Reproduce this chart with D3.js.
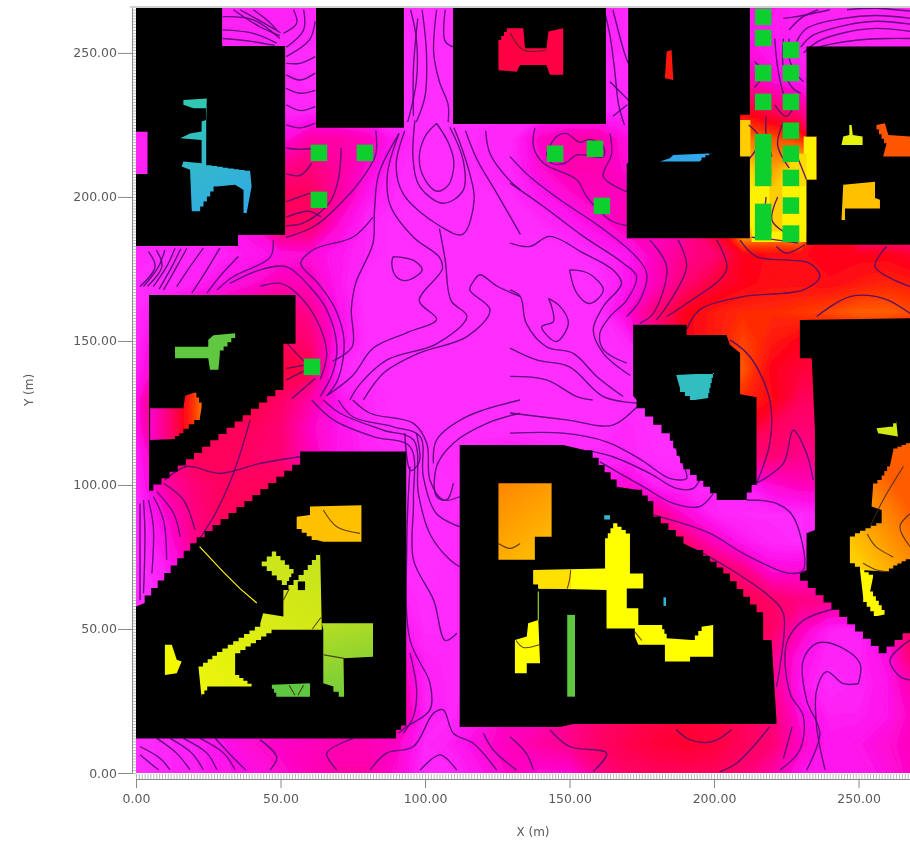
<!DOCTYPE html>
<html><head><meta charset="utf-8">
<script src="https://cdn.jsdelivr.net/npm/d3@7"></script>
<style>html,body{margin:0;padding:0;background:#fff}svg{display:block}</style>
</head><body><svg id="c" width="910" height="844"></svg>
<script>
// ---------- DATA (metres, field level) ----------
const gridX = d3.range(0, 271, 10);
const gridY = [270,260,250,240,230,220,210,200,190,180,170,160,150,140,130,120,110,100,90,80,70,60,50,40,30,20,10,0];
const fieldRows = [
[.3,.3,.3,.5,.5,.5,.3,.3,.3,0,0,0,.5,1,1,1,.5,.2,0,.3,.5,1,.8,.5,.5,.5,.5,.5],
[.3,.3,.3,.5,.5,.4,.3,.3,.3,0,0,0,.5,1,1.5,1.5,.5,.2,0,.5,1,1,.7,.5,.5,.5,.5,.5],
[.3,.3,.3,.3,.3,.2,.2,.2,.1,0,0,0,1,2,2,1.5,.3,.2,0,.5,1.5,1.5,.8,.5,.5,.5,.5,.5],
[.3,.3,.3,.3,.3,.3,.2,.2,.1,0,0,0,.5,1,1,.5,.2,.2,.1,1,3,2.5,1.5,.8,.5,.5,.5,.5],
[.3,.3,.3,.3,.3,.3,.3,.3,.2,0,0,0,.1,.2,.2,.2,.2,.2,.2,1,3,5,4,3,1,.5,.5,.5],
[.5,.5,.5,.5,.8,1.2,2.4,2.4,2,.7,0,0,.3,.3,1.8,2.4,2.4,1.2,.5,1,3,7,6.5,6,2,1,1,1],
[.5,.5,.5,.5,1,3,3.4,2.6,1.5,.3,0,0,.3,.3,1.5,2.2,2.2,1.5,1,1.5,4,8.7,7.5,8.8,4,1,1,1],
[.5,.5,.5,.6,1.2,4,4,2.6,.8,.2,0,0,0,.2,.8,1.5,2,2,1.5,2,4.5,9,8.3,9,4.5,1,1,1],
[.4,.4,.4,.8,1.4,3.9,3.7,1.5,.3,0,0,0,0,.1,.2,.6,1.3,2,2,2.5,5,9,8.5,9,5,2,2,2],
[.3,.2,.3,.5,.8,1.2,1.4,.8,.3,0,0,0,0,0,0,0,.3,.8,2,3,3.5,5,5.2,5.2,5,5,5,4.6],
[.2,.2,.5,1,1.5,2.2,2,.8,0,0,0,0,0,0,0,0,0,.8,2,3.5,4.5,5,5.3,5.3,5.2,5.5,5.7,5.5],
[.2,1,2,2.5,3,3.5,3,1,0,0,0,0,0,0,0,0,0,1.5,3.5,5,5.5,5.8,5.8,6,6.3,6.6,6.6,6.3],
[.2,2,3,3.5,4,4,3.5,1,.1,0,0,0,0,0,0,0,0,.3,3,5,5.5,6.2,5.5,5,5,5,5,5],
[.5,2.5,4,4,4.5,4.5,4.3,.3,.1,0,0,0,0,0,0,0,0,.1,.2,.5,5.5,6.5,5,4.5,4.5,4.5,4.5,4.5],
[1,5,6.5,5,4.5,3.8,2.5,.8,.3,0,0,0,0,0,0,0,0,0,.1,.2,.5,5.8,5.2,4,4,4,4,4],
[1,4.5,5,4,4,3.5,1.8,1,.3,.1,0,0,0,0,0,0,0,.3,0,.2,.5,5,4,3.5,3.5,4,5,6],
[.5,3,4,4,3.8,3.5,2,1,.5,.3,.1,.2,.5,.8,.5,.3,.3,.3,.1,.1,.8,3.3,3.5,3,3,4,6,7],
[.3,2.4,3.4,3.9,4,4,3,1.5,.5,.1,0,.1,.5,.5,.5,.5,1,1.5,.5,.3,.3,.5,1.5,2,2,3,5,7],
[.1,1.5,3.2,4,4,3.5,3,1.5,.5,.2,0,.2,.5,.5,.5,.5,1,2,3,1.5,.4,.2,.2,.2,.5,3,5,7],
[0,1,3,4,4,3.5,3,1.5,.5,.3,0,.2,.5,.5,.5,.5,1,2,4,3.5,2,.8,.3,.2,.5,3,5,7],
[0,.5,2,3,3,3,2.5,1.5,.5,.3,0,.2,.5,.5,.5,.5,1,2,4,4.2,4.2,3.2,1.5,1.5,2,3,5,6],
[0,.3,1,2,2,2,2,1.5,.8,.5,.1,.2,.5,.5,.5,.5,1,2,4,4.2,4.3,4.2,3.8,3.2,3,3,4,5],
[0,.3,1,2,2,2,2,1.5,1,1,.2,.2,.5,.5,.5,.5,1,2,4,4.2,4.3,4.2,3.8,2,.6,.4,1.5,4.5],
[0,.3,1,2,2,2,2,2,1.5,2,.4,.3,.5,.5,.5,.5,1,2,3.5,4,4,4,3,1,.4,.5,1.2,4],
[0,.3,1,2,2,2,2,2,2,2.5,.5,.3,.5,.5,.5,.5,1,2,3.5,4,4,4,3,.8,.2,.4,1,2.5],
[0,.3,1,1.5,1.5,1.5,1.5,1.5,1.5,3,.5,.3,1,2,2,3,3.5,4,4.3,4.5,4.5,4,3.5,1.3,.6,.6,1,2],
[.1,.3,.5,1,1.5,1.8,2,2.2,2.2,1.8,.3,.7,1.5,2,2.5,3,3.8,4.2,4.5,4.7,4.5,4,3.5,1.8,.8,1,1.5,2],
[0,.3,.5,1,1.2,1.5,2,2.3,2.3,1.5,.2,.3,1,1.8,1.5,1.5,3,3.8,4,4,4,3.5,2.5,1,.8,.8,1.2,2]
];
const levelStops = d3.range(0, 14);
const levelColors = ["#ff2eff","#ff10e8","#ff00b8","#ff0088","#ff0058","#ff0018","#ff3800","#ff8000","#ffc000","#ffff00","#c0e020","#60c840","#30c8b0","#30a8e8"];

const corridorLevels = [8.8,8.2,8.2,8.8,8.4];
const corridorShapes = [
 [[213,203.8],[232,203.8],[232,184.4],[213,184.4]],
 [[219.2,203.8],[223.6,203.8],[223.6,188],[219.2,188]],
 [[209,214],[212.6,214],[212.6,226.7],[209,226.7]],
 [[231,206],[235.5,206],[235.5,221],[231,221]],
 [[224,203.8],[232,203.8],[232,215],[227,215]]
];

const buildings = [
 [[0,266],[29.8,266],[29.8,252.4],[51.6,252.4],[51.6,186.8],[35.3,186.8],[35.3,183],[0,183],[0,208],[4,208],[4,222.6],[0,222.6]],
 [[62.3,266],[92.7,266],[92.7,224],[62.3,224]],
 [[109.7,266],[162.6,266],[162.6,225.3],[109.7,225.3]],
 [[170.3,266],[212.4,266],[212.4,228.5],[209,228.5],[209,214],[212.4,214],[212.4,185.7],[169.8,185.7],[169.8,211.7],[170.3,211.7]],
 [[232,252.2],[268,252.2],[268,183.4],[232,183.4],[232,206],[235.5,206],[235.5,221],[232,221]],
 [[4.5,166],[55.2,166],[55.2,149],[51,149],[51,133],[6,98],[4.5,98]],
 [[0,12],[90,12],[90,15],[93.5,18],[93.5,111.6],[56.8,111.6],[56.8,107],[21,79.8],[3,59],[0,57.8]],
 [[112,113.9],[147.8,113.9],[155.9,112],[166.3,99.4],[173.2,98.3],[179,92.5],[179,89],[189.4,79.8],[193.9,77.4],[203.2,69.3],[217,53.1],[217,46.2],[219.9,46.2],[221.6,18.4],[221.6,17],[151.3,17],[146.7,16],[112,16]],
 [[172,155.6],[190.5,155.6],[190.5,152.1],[204.3,152.1],[205.5,148.7],[209,145.8],[209,131.5],[214.7,130.5],[214.7,100],[211.3,94.8],[203.2,94.8],[198.6,99.4],[189.4,107.5],[184.7,118],[173.2,129.5],[172,131]],
 [[229.7,157.3],[268,157.9],[268,48.5],[259.7,41.6],[229.7,69.3],[232,70.5],[232,83.2],[234.9,84.4],[234.9,119],[233.8,144],[229.7,144]]
];

const patchLevels = [12.6,11,4.3,5.4,13,9.4,6.4,8,5,8,9.6,10.2,9.8,9.2,11,7.5,9,8.5,9,11,12.3,9.7,7.3,8.9];
const patchShapes = [
 [[16.4,233.7],[24.5,234.2],[24.3,226],[24.3,211],[39.5,208.8],[40,203.6],[38.3,194.4],[37.2,194.4],[37.2,202.4],[34.3,204.2],[28,203.6],[22.2,195],[19.3,195],[18.7,209.4],[15.8,210.6],[16.4,212.3],[22.7,211.7],[22.7,219.8],[15.3,220.4],[18.7,222],[22.7,222.7],[22.7,226.2],[24.2,226.7],[24.2,230.8],[19.9,230.8],[16.4,232]],
 [[13.5,148],[25,148],[25,150.4],[26.8,152],[34.3,152.7],[34.3,151],[29,145.2],[28.5,140],[25.6,140],[25,144],[13.5,144]],
 [[125.4,254.5],[128.3,258.6],[134,258.6],[134.6,251.6],[142,251.6],[142.7,257.4],[147.8,258.6],[147.8,242.4],[143.2,242.4],[142,245.8],[132.9,245.8],[131.7,243.5],[125.4,244]],
 [[183,241.2],[183.6,250.5],[185.3,251],[185.9,240.6]],
 [[181.3,212.3],[184.7,213.4],[185.9,214.6],[199.7,215.2],[195.7,212.9],[195,212.3]],
 [[244.7,221],[246.8,221.5],[246.8,225],[247.6,225],[248,221.5],[251.4,221],[251.4,218],[244.1,218]],
 [[256.2,225],[259.1,225.6],[260.3,221.5],[267.8,221],[267.8,214],[258.5,214],[259.7,218.6]],
 [[244.7,204.2],[255.7,205.3],[255.7,199.6],[257.4,199],[257.4,196],[245.3,196],[245.3,192],[244.1,192]],
 [[4.9,126.6],[16.4,126.6],[17,131],[20,132],[22.7,127],[22,122.6],[16.4,118],[13.5,116],[4.9,115.6]],
 [[60.2,92.5],[78,93],[78,80.3],[64.8,80.3],[62.5,80.9],[55.6,86],[55.6,89],[60.2,89.6]],
 [[63.7,77.4],[64.3,49.7],[48.7,49.7],[34.3,40.4],[34.3,34],[40,30],[25.6,30],[22.7,26],[21.6,37],[28,42],[43,52],[44,55.5],[51,54.3],[51,63.5],[58,70.5]],
 [[64.3,52],[82,52],[82,40.4],[71.8,39.8],[72,26.5],[68.3,30],[64.8,31.2],[64.8,49.7]],
 [[47,76.9],[54.5,69.3],[52.2,65.3],[43.5,73.4]],
 [[10,44.5],[12.4,44.5],[14.1,39.3],[15.8,38.7],[14.1,34.6],[10,34]],
 [[47,30.6],[60.2,31.2],[60.2,26.5],[49.3,26.5]],
 [[125.4,100.6],[143.8,100.6],[143.8,82],[138,82],[138,74],[125.4,74]],
 [[137.5,70.5],[162.3,71],[162.3,81.5],[165.1,86.7],[170.9,82],[170.9,69.3],[175.5,69.3],[175.5,64.1],[169.8,64.1],[169.8,57.2],[173.8,57.2],[173.8,51.4],[181.3,51.4],[183.6,46.8],[192.2,46.2],[195.7,50.8],[199.7,51.4],[199.7,40.4],[191.7,40.4],[191.7,38.7],[183,38.7],[183,44.5],[173.8,44.5],[172.6,47.4],[172.6,50.2],[162.8,50.2],[162.8,63.5],[140.9,64.1],[137.5,67]],
 [[137.5,70.5],[150.5,70.5],[150.5,64],[140.9,64],[137.5,67]],
 [[139.2,53.1],[139.8,38.1],[135.2,38.1],[135.2,34.6],[131.1,34.6],[131.1,46.2],[135.2,47.4],[135.7,52]],
 [[149.2,54.9],[151.9,54.9],[151.9,26.5],[149.2,26.5]],
 [[186.9,138.2],[200,138.9],[198,130.2],[193.4,129.5],[188.2,133.7]],
 [[256.2,119.7],[260.9,120.2],[263,122.6],[263.6,116.8],[256.8,118]],
 [[267.8,114.5],[262,112],[260.8,106.4],[258,101.7],[255,99.4],[254.5,92.5],[258,91.3],[258,86.7],[250.5,83.2],[247,81],[247,72.8],[250.5,70.5],[259,70],[262,72],[267.8,75]],
 [[250.5,70.5],[255,68],[254,63],[259,55],[256.5,54.5],[251.6,61]]
];
// patch index, start X, start Y, end X, end Y, start level, end level
const patchRamps = [
 [0,20,235,40,195,12,13],[8,4.9,120,22.7,120,1.5,6.8],[10,64,75,25,28,9.9,9.3],[11,65,52,72,27,10.1,10.8],
 [15,125,100,144,76,7.1,8],[22,247,78,268,92,8.2,6.5]
];
const specksLevels = [12.6,12.6];
const specks = [[[162,89.5],[164,89.5],[164,88],[162,88]],[[182.5,61],[183.4,61],[183.4,58],[182.5,58]]];
const holeSquare = [[56,63.5],[58.5,63.5],[58.5,66.5],[56,66.5]];
const seamLine = [[22,78.6],[30,70],[36,64],[41.8,59]];
const seamRod = [[139.2,63],[139.2,53]];

const isoLines = [
 [[104,225.5],[108,219],[110,212],[108,204],[104,202],[100,206],[98,213],[100,221],[104,225.5]],
 [[96.5,226.6],[95.9,212.7],[98.3,203.4],[106.3,197.8],[113.2,202.3],[113.2,212.7],[108.6,224.2]],
 [[93,223],[90,211],[92.5,201],[105,190],[113,187],[117,199],[115.5,208],[112,219],[110,224]],
 [[91,222],[87,208],[88,197],[96,186],[105,179],[106,175],[98,164],[104,157.5],[94,153],[82,147.5],[75,138],[66,131]],
 [[114,223],[118,213],[125,201],[133,187]],
 [[121,223],[122.5,215],[129,206],[133,202.5]],
 [[105,189],[107,178],[109,164],[114.5,158.5],[104,149],[87,143.5],[77.5,135],[74,129.5]],
 [[89,179.3],[96,178],[99,174.7],[93.7,171],[90,172.4],[88.5,177],[89,179.3]],
 [[133,165.4],[125,169],[119,173],[117,171],[115.5,167.7],[122.5,160.8],[114.5,151.5],[98,145.8],[85.6,138.8],[78.7,129.5]],
 [[43,169],[50,170],[55.6,166.6],[62.5,157.3],[66,145.8],[63.7,136.5]],
 [[32.5,170],[43,174.7],[52,175.8],[60,169],[66,160.8],[69.5,148],[68,138.8],[63.7,130.7]],
 [[47.5,185],[46.4,179],[33.7,172.4],[28,167.7]],
 [[83,223],[83,215],[80,209],[72,199],[62,190],[52,186]],
 [[71,217],[70,206],[67,198],[58,191],[52,190]],
 [[62,217],[56.8,216.5],[52,217]],[[52,208],[56.8,207.5],[60.8,211.7]],[[52,198.4],[60.2,201.3]],[[52,193],[60,195],[64,193]],
 [[91,222],[84,208],[82.5,195],[82,184],[76,170],[74.5,161],[74.8,148],[68,143]],
 [[82,193],[75,186],[62,182],[57,177],[63,170],[69,161],[72,150],[70,137],[66,131]],
 [[52,149.5],[58,143]],[[52,140.5],[58,141.5]],[[52,136.5],[58,139.5]],[[62,137],[54,130]],
 [[23.3,182.2],[18.7,175.8],[14.1,168.9]],[[29,182.2],[24.5,174.7],[19.3,166.6]],[[35.4,179.3],[29,172.4],[24.5,166.6]],
 [[17.6,182.2],[14.1,175.8],[9.5,167.7]],[[13.5,182.2],[10.6,175.8],[6,168.9]],[[10,181.6],[7.8,175.8],[2.6,168.9]],[[4.3,181],[6.6,175.8],[1.4,168.9]],
 [[7,181.5],[9,176],[4,169]],[[15.5,182],[12.5,176],[8,168]],
 [[30,258],[40.6,256.8],[48.7,253.4]],[[30,262.6],[40.6,261.5],[49.8,255]],[[33.7,265],[43,259],[49.8,256]],[[40.6,265],[45.2,261.5],[48.7,258]],
 [[36,265],[44,260.5],[50,257]],[[30,255],[40,254],[48,252.6]],
 [[54.5,265],[55.6,260.3],[51,256.8]],[[58,265],[58,258],[52,252]],[[62,261],[60,254.5],[52,248.7]],
 [[62,248.7],[56.8,246.4],[52,246.4]],[[62,243],[56.8,240.6],[52,242.4]],[[62,237],[56.8,236],[52,237.7]],[[62,231.4],[56.8,230],[52,232]],[[62,225.6],[56.8,224],[52,225]],
 [[162,265],[164,256],[165.5,245],[167,232],[169,225]],[[165,265],[169,250],[170.5,246]],[[164,240],[168,236],[171,233]],[[165,228],[170,232]],
 [[95,265],[97,255],[97,240],[94,226]],[[99,265],[100.5,250],[100,235],[97,226]],[[104,265],[103,250],[105,240],[108,232],[108,226]],[[107,265],[107,254],[110,252]],[[97.5,262],[96,245],[96,228]],
 [[138,224],[137.5,217.5],[141,211.7],[152.5,206],[156,200],[164,192],[169.7,190]],
 [[142,215],[145.5,221],[149,222],[153.6,219],[157,220],[161.7,217.5],[161.7,214],[152.5,214.6],[148.4,211.7],[143.8,211.7],[142,215]],
 [[164,222],[164.6,215],[161.7,207],[171,201.3]],
 [[129.4,214],[136.3,207],[146.7,199],[160.5,189.7],[173,179.3],[176.7,173.5],[174.4,164.2],[169.8,158.5]],
 [[129.4,204.8],[141,196.7],[154.8,186.3],[168.6,177],[173.2,172.4],[169.8,164.2],[164,158.5],[160.5,152.7],[161.7,147],[169.8,142.3]],
 [[129.4,184],[136.3,182.8],[143.2,186.3],[154.8,180.5],[165,174.7],[168,170],[161.7,162],[158.2,153.9],[161.7,145.7],[171,138]],
 [[129.4,147.5],[138.6,143.4],[150,141],[161.7,130.7],[174.4,128.3]],
 [[129.4,167.7],[133,165.4],[135,156.2],[142,148],[151.3,145.7],[159.4,137.7],[168.6,130.7]],
 [[150,174.7],[156.5,173.5],[161.7,167.7],[157,163],[152.5,166.6],[150,174.7]],
 [[142.7,164.8],[146.7,162],[149.6,156.2],[145.5,149.8],[141.5,152.7],[140.4,155],[144.4,156.7],[143.8,162],[142.7,164.8]],
 [[129.4,137.7],[142,136.5],[152.5,130.7],[158,129.5]],
 [[177.8,185],[183.6,175.8],[179,159.6],[174.4,156.2]],[[187.6,185],[190.5,175.8],[183.6,162],[180,157.3]],[[200.9,185],[204.3,174.7],[190.5,163],[183.6,158.5]],
 [[209,185],[214.7,179.3],[233,177],[236.6,172.4],[230.9,167.7],[210,165.4],[195,160.8],[190.5,153.9]],
 [[221.6,182.8],[225,180.5],[231.4,183.4]],[[259.7,182.8],[255.7,175.8],[267.8,168.9]],[[235.5,158.5],[247,165.4],[258.5,164.8],[267.8,159.6]],
 [[205.5,150.4],[212.4,144.6],[219.3,129.5],[219.3,114.5],[214.7,100.6]],
 [[214.7,100.6],[224,107.5],[227.4,119],[232,111],[234.3,101.7]],
 [[129.4,125],[149,122.6],[165,120.8],[174.4,128.3]],
 [[129.4,118],[147.8,118],[162.8,115],[174.4,109],[184.7,102.3],[190.5,102.3],[189.4,107],[185.9,114.5]],
 [[155.9,112],[165,109.8],[177.8,104],[187,98.8],[192.8,98.8],[195,101.7]],
 [[160.5,108],[175.5,99.4],[185.9,93.6],[195,92.5],[199.7,97]],
 [[179,89.6],[198.6,83.2],[210,76.3],[226.3,69.3],[230.9,70.5],[227.4,89],[221.6,93.6],[211.3,94.8]],
 [[192.8,78],[204.3,71.6],[219.3,61.2],[224,55.4],[222.8,37],[221.6,30]],
 [[244.7,57.8],[230.9,53],[225.1,45],[226.3,27.7],[230.9,19.6],[229.7,8],[222.8,1]],
 [[249.9,31],[250.5,38],[243.5,43.9],[235.5,45],[230.9,39.3],[232,25.4],[236.6,13.8],[232,1]],
 [[249.9,31],[244.7,31],[239,35.2],[235.5,28.8],[235.5,16.1],[238.4,1.1]],
 [[267.8,46.2],[260.9,39.3],[264.3,33.5],[267.8,32.3]],
 [[187,15],[191.7,11.5],[199.7,11],[206,15]],[[143.2,15],[150,9.2],[162.8,6.9],[158.2,.5]],[[129.4,12.6],[135,6.9],[137.5,1]],[[219.3,16.1],[207.8,3.4],[202,.5]],[[227,16],[224,5]],
 [[60.8,129.5],[68.3,122.6],[82,116.8],[94.8,113.3],[96,94.8],[96,74],[103,60],[107,46],[111,48.5]],
 [[64.8,129.5],[70.6,124.9],[85.6,119],[96,115.6],[97.7,97],[101.7,83],[108.6,74],[112,71.6]],
 [[70,129.5],[75,123.7],[89,120.2],[98.3,116.8],[99.4,102.9],[104,90],[112,85.5]],
 [[75,129.5],[81,124.9],[96,121.4],[100.6,114.5],[101.7,101.7],[106.3,94.8],[112,96]],
 [[132.9,124.9],[121.4,121.4],[109.8,114.5],[104,106.4],[104,96],[107.5,94.8],[109.8,100.6]],
 [[132.9,129.5],[114.4,123.7],[104,115.6],[102.9,107.5]],
 [[93,118],[95,105],[98,108],[97,118]],
 [[94.8,106.4],[93.7,79.7],[94.8,46.2],[101.7,31.2],[101.7,21.9],[93.7,16.1],[90.8,13.8]],
 [[94.8,41.6],[97.1,28.9],[96,19.6],[92.5,13.8]],
 [[81,1],[86.7,6.9],[96,9.2],[102.9,20.7],[106.3,21.9],[109.8,13.8],[116.7,10.3],[124.8,1]],
 [[98.3,1],[105.2,6.3],[111,1]],[[75.2,12],[66,6.9],[69.5,1]],[[120.2,13.8],[123.6,8],[131.7,1]],
 [[7.2,12],[14,6.9],[18.7,1.1]],[[11.8,12],[19.3,6.9],[23.3,1.1]],[[16.4,12],[24.5,6.9],[28,1.1]],[[22.2,12],[30.3,6.9],[34.3,1.1]],[[1.4,9.2],[8.3,5.1],[11.8,1.1]],[[1.4,6.3],[4.9,3.4],[7.8,1.1]],[[43,11.5],[48.7,5.5],[46.4,1.1]],[[27.5,12],[33,6],[38,1]],
 [[9.5,100.6],[16.4,94.8],[20.4,84.4]],[[7.2,97.7],[13,90.2],[15.3,82]],[[6,96],[9.5,87.9],[10.6,74]],[[4.3,94.8],[6,85.5],[5.5,69.3]],[[2.6,94.8],[3.1,83],[2.6,62.4]],[[1.4,93.6],[1.4,81],[1.4,60]],
 [[39.5,122.6],[33.7,104],[27.4,90],[21,79.8]],[[56.8,109.8],[43,107.5],[29,104],[17.6,106.4],[10,101.7]],
 [[228.6,254],[232,258.5],[244.7,262],[256,263],[268,262]],[[230,252],[234,256],[245,259.5],[256,261],[268,260]],[[231,250],[236,254],[245,257],[256,258.5],[268,257.5]],[[234,251.5],[240,253],[250,254.5],[260,255],[268,255]],
 [[224,262],[228,262.5],[240,265]],[[226,258],[230,262],[236,265]],[[246,265],[256,265.5],[268,264.5]],
 [[214,247],[217,243],[214,238]],[[221,255],[222,245],[224,236],[226,232]],[[224,255],[224,245],[227,238],[230,236]],[[226,255],[226,248],[229,242],[231,240]],[[221,232],[225,228],[228,232]],
 [[212,225],[216,220],[212,213]],[[218,228],[218,222],[220,214]],[[224,226],[222,218],[226,210]],[[222,200],[220,192],[224,188]],[[217,190],[218,200]],[[228,216],[232,206]],[[213,186],[222,185],[229,184]]
];
const patchIsoLines = [
 [[64.8,91.3],[69.5,85.5],[77.5,83.2]],[[125.4,79.7],[129.4,78],[132.9,79.7]],[[150.4,70.5],[150,67],[149.2,64]],
 [[131.5,46],[134,43.6],[139.5,44.5]],[[172.6,49],[175,46]],
 [[253,83],[256,78.6],[262,75]],[[267.8,90],[264.3,85.5],[267.8,78.6]],[[265.5,106.4],[258.5,94.8],[254,85.5]],[[251.6,72.8],[256.2,70.5],[260.8,69.9]],
 [[64,54],[61,50]],[[65,41],[72,39.8]],[[51,60],[53,64]],[[53,30.5],[55,27]],[[58,30.5],[56,27]],
 [[129.4,257],[134,251],[142,251]]
];
const sensorX = [63.3,79.2,63.3,145,158.8,161.2,60.9,217,217,217,217,226.6,226.6,226.6,226.6,226.6,226.6,226.6,226.6,226.6,217,217,217,217,217,217,217];
const sensorY = [215.3,215.3,199,215,216.7,196.9,141,262.5,255.2,243,233,251,243,233,223,215,206.6,197,187.2,187.2,219,214.6,210,206.6,194.8,190,187.8];
const majorTicks = [0,50,100,150,200,250];
const xTitle = "X (m)", yTitle = "Y (m)";

// ---------- SCALES ----------
const plotL = 136, plotR = 910, plotT = 8, plotB = 773;
const x = d3.scaleLinear().domain([0, 267.8]).range([plotL, plotR]);
const y = d3.scaleLinear().domain([0, 265.6]).range([plotB, plotT]);
const level = d3.scaleLinear().domain(levelStops).range(levelColors).clamp(true);

const svg = d3.select("#c");
const defs = svg.append("defs");
defs.append("clipPath").attr("id","plot").append("rect").attr("x",plotL).attr("y",plotT).attr("width",plotR-plotL).attr("height",plotB-plotT);
const soft = defs.append("filter").attr("id","soft").attr("filterUnits","userSpaceOnUse").attr("x",plotL-10).attr("y",0).attr("width",plotR-plotL+20).attr("height",plotB+10);
soft.append("feGaussianBlur").attr("stdDeviation",0.6);
const txtF = defs.append("filter").attr("id","txt");
txtF.append("feGaussianBlur").attr("stdDeviation",0.4);

patchRamps.forEach(r=>{
  const g=defs.append("linearGradient").attr("id","ramp"+r[0]).attr("gradientUnits","userSpaceOnUse")
    .attr("x1",x(r[1])).attr("y1",y(r[2])).attr("x2",x(r[3])).attr("y2",y(r[4]));
  d3.range(0,1.01,.125).forEach(t=>g.append("stop").attr("offset",t).attr("stop-color",level(r[5]+(r[6]-r[5])*t)));
});

const plot = svg.append("g").attr("clip-path","url(#plot)").append("g").attr("filter","url(#soft)");

// field
const flat = fieldRows.flat();
const contours = d3.contours().size([gridX.length, gridY.length]).smooth(true)
  .thresholds(d3.range(-0.01, 9.5, 0.12))(flat);
const gx = d3.scaleLinear().domain([0.5, gridX.length-0.5]).range([gridX[0], gridX[gridX.length-1]]);
const gy = d3.scaleLinear().domain([0.5, gridY.length-0.5]).range([gridY[0], gridY[gridY.length-1]]);
const proj = d3.geoTransform({point(a,b){this.stream.point(x(gx(a)), y(gy(b)));}});
const geo = d3.geoPath(proj);
plot.append("g").selectAll("path").data(contours).join("path")
  .attr("d",geo).attr("fill",d=>level(d.value)).attr("stroke",d=>level(d.value)).attr("stroke-width",.4);

const poly = d3.line().x(d=>x(d[0])).y(d=>y(d[1]));
const closedPath = d=>poly(d)+"Z";
plot.append("g").selectAll("path").data(corridorShapes).join("path").attr("d",closedPath).attr("fill",(d,i)=>level(corridorLevels[i]));

// isolines
const curve = d3.line().x(d=>x(d[0])).y(d=>y(d[1])).curve(d3.curveCatmullRom.alpha(.5));
const lineColor = "#4d0a6e";
plot.append("g").selectAll("path").data(isoLines).join("path")
  .attr("d",curve).attr("fill","none").attr("stroke",lineColor).attr("stroke-opacity",.9).attr("stroke-width",1.35);

// stair-stepped outline of the blocks
function stairs(pts,step){
  const out=[];
  pts.forEach((p,i)=>{
    const q=pts[(i+1)%pts.length]; out.push(p);
    const dx=q[0]-p[0], dy=q[1]-p[1];
    if(Math.abs(dx)>step && Math.abs(dy)>step){
      const n=Math.ceil(Math.max(Math.abs(dx),Math.abs(dy))/step);
      d3.range(1,n).forEach(k=>{
        const a=[p[0]+dx*k/n,p[1]+dy*k/n], b=[p[0]+dx*(k-1)/n,p[1]+dy*(k-1)/n];
        out.push([a[0],b[1]]); out.push(a);
      });
      out.push([q[0],p[1]+dy*(n-1)/n]);
    }
  });
  return out;
}
plot.append("g").selectAll("path").data(buildings.map(b=>stairs(b,2.9))).join("path").attr("d",closedPath).attr("fill","#000");

const rampIds = new Set(patchRamps.map(r=>r[0]));
plot.append("g").selectAll("path").data(patchShapes.map(p=>stairs(p,1.9))).join("path").attr("d",closedPath)
  .attr("fill",(d,i)=>rampIds.has(i)?`url(#ramp${i})`:level(patchLevels[i]));
plot.append("g").selectAll("path").data(specks).join("path").attr("d",closedPath).attr("fill",(d,i)=>level(specksLevels[i]));
plot.append("path").datum(holeSquare).attr("d",closedPath).attr("fill","#000");
plot.append("path").datum(seamLine).attr("d",poly).attr("fill","none").attr("stroke",level(8.8)).attr("stroke-width",1.2);
plot.append("path").datum(seamRod).attr("d",poly).attr("fill","none").attr("stroke",level(10.5)).attr("stroke-width",1.2);
plot.append("g").selectAll("path").data(patchIsoLines).join("path").attr("d",curve).attr("fill","none").attr("stroke","rgba(70,40,20,.85)").attr("stroke-width",1.1);

// sensors
plot.append("g").selectAll("path").data(d3.zip(sensorX,sensorY)).join("path")
  .attr("transform",d=>`translate(${x(d[0])},${y(d[1])})`)
  .attr("d",d3.symbol(d3.symbolSquare,272)).attr("fill","#0ccf2e");

// axes
const font = "'DejaVu Sans',sans-serif";
const axes = svg.append("g").attr("filter","url(#txt)");
function styleAxis(g){ g.selectAll(".domain,line").attr("stroke","#8a8a8a"); g.selectAll("text").attr("fill","#5a5a5a").style("font-family",font).style("font-size","12.5px"); }
const minorX = d3.range(0,268,1), minorY = d3.range(0,266,1);
axes.append("g").attr("transform",`translate(0,${plotB+6})`)
  .call(d3.axisTop(x).tickValues(minorX).tickSize(5).tickFormat("").tickSizeOuter(0)).call(styleAxis)
  .selectAll("line").attr("stroke","#b5b5b5");
axes.append("g").attr("transform",`translate(${plotL-4},0)`)
  .call(d3.axisRight(y).tickValues(minorY).tickSize(4).tickFormat("").tickSizeOuter(0)).call(styleAxis)
  .selectAll("line").attr("stroke","#b5b5b5");
axes.append("g").attr("transform",`translate(0,${plotB+6})`)
  .call(d3.axisBottom(x).tickValues(majorTicks).tickSize(9).tickPadding(6).tickSizeOuter(0).tickFormat(d3.format(".2f"))).call(styleAxis);
axes.append("g").attr("transform",`translate(${plotL-4},0)`)
  .call(d3.axisLeft(y).tickValues(majorTicks).tickSize(14).tickPadding(1).tickSizeOuter(0).tickFormat(d3.format(".2f"))).call(styleAxis);
axes.append("line").attr("x1",plotL-6).attr("x2",plotR).attr("y1",plotT-1).attr("y2",plotT-1).attr("stroke","#a0a0a0");
axes.append("text").attr("x",533).attr("y",836).attr("text-anchor","middle").text(xTitle).attr("fill","#5a5a5a").style("font-family",font).style("font-size","12px");
axes.append("text").attr("transform","translate(33,390) rotate(-90)").attr("text-anchor","middle").text(yTitle).attr("fill","#5a5a5a").style("font-family",font).style("font-size","12px");
</script></body></html>
